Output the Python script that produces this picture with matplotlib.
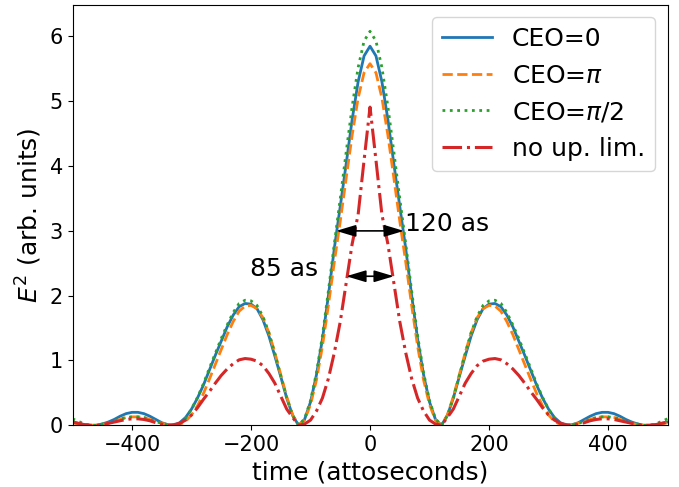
import numpy as np
import matplotlib
matplotlib.use('Agg')
import matplotlib.pyplot as plt

# sample times (attoseconds)
t = np.arange(-500, 501, 10)

# E^2, t = -500 ... 500 every 10 as
ceo_0 = [0.05, 0.03, 0.01, 0.00, 0.00, 0.02, 0.05, 0.09, 0.14, 0.18, 0.20, 0.20, 0.18, 0.14, 0.09, 0.04, 0.01,
         0.00, 0.04, 0.12, 0.25, 0.42, 0.62, 0.85, 1.08, 1.30, 1.52, 1.70, 1.83, 1.88, 1.87, 1.80, 1.63, 1.38, 1.07, 0.75, 0.42, 0.15,
         0.00, 0.09, 0.36, 0.78, 1.33, 2.00, 2.73, 3.38, 4.04, 4.72, 5.30, 5.70,
         5.85,
         5.70, 5.30, 4.72, 4.04, 3.38, 2.73, 2.00, 1.33, 0.78, 0.36, 0.09, 0.00,
         0.15, 0.42, 0.75, 1.07, 1.38, 1.63, 1.80, 1.87, 1.88, 1.83, 1.70, 1.52, 1.30, 1.08, 0.85, 0.62, 0.42, 0.25, 0.12, 0.04, 0.00,
         0.01, 0.04, 0.09, 0.14, 0.18, 0.20, 0.20, 0.18, 0.14, 0.09, 0.05, 0.02, 0.00, 0.00, 0.01, 0.03, 0.05]

ceo_pi = [0.04, 0.02, 0.01, 0.00, 0.00, 0.01, 0.03, 0.06, 0.09, 0.12, 0.13, 0.13, 0.12, 0.09, 0.06, 0.03, 0.01,
          0.00, 0.01, 0.06, 0.16, 0.30, 0.49, 0.71, 0.94, 1.17, 1.40, 1.60, 1.76, 1.84, 1.85, 1.80, 1.66, 1.43, 1.12, 0.78, 0.44, 0.16,
          0.00, 0.08, 0.32, 0.70, 1.22, 1.85, 2.52, 3.15, 3.82, 4.48, 5.05, 5.44,
          5.58,
          5.44, 5.05, 4.48, 3.82, 3.15, 2.52, 1.85, 1.22, 0.70, 0.32, 0.08, 0.00,
          0.16, 0.44, 0.78, 1.12, 1.43, 1.66, 1.80, 1.85, 1.84, 1.76, 1.60, 1.40, 1.17, 0.94, 0.71, 0.49, 0.30, 0.16, 0.06, 0.01, 0.00,
          0.01, 0.03, 0.06, 0.09, 0.12, 0.13, 0.13, 0.12, 0.09, 0.06, 0.03, 0.01, 0.00, 0.00, 0.01, 0.02, 0.04]

ceo_pi2 = [0.10, 0.06, 0.02, 0.00, 0.00, 0.02, 0.04, 0.07, 0.10, 0.12, 0.13, 0.13, 0.12, 0.09, 0.06, 0.03, 0.01,
           0.00, 0.03, 0.11, 0.25, 0.43, 0.64, 0.88, 1.11, 1.34, 1.55, 1.74, 1.88, 1.93, 1.92, 1.85, 1.68, 1.43, 1.11, 0.76, 0.42, 0.15,
           0.00, 0.10, 0.38, 0.81, 1.38, 2.07, 2.80, 3.50, 4.22, 4.92, 5.52, 5.93,
           6.08,
           5.93, 5.52, 4.92, 4.22, 3.50, 2.80, 2.07, 1.38, 0.81, 0.38, 0.10, 0.00,
           0.15, 0.42, 0.76, 1.11, 1.43, 1.68, 1.85, 1.92, 1.93, 1.88, 1.74, 1.55, 1.34, 1.11, 0.88, 0.64, 0.43, 0.25, 0.11, 0.03, 0.00,
           0.01, 0.03, 0.06, 0.09, 0.12, 0.13, 0.13, 0.12, 0.10, 0.07, 0.04, 0.02, 0.00, 0.00, 0.02, 0.06, 0.10]

no_lim = [0.05, 0.03, 0.01, 0.00, 0.00, 0.01, 0.03, 0.05, 0.07, 0.09, 0.10, 0.10, 0.09, 0.07, 0.04, 0.02, 0.00,
          0.01, 0.03, 0.08, 0.16, 0.27, 0.40, 0.52, 0.65, 0.77, 0.87, 0.95, 1.01, 1.03, 1.02, 0.99, 0.92, 0.80, 0.65, 0.45, 0.25, 0.12,
          0.00, 0.02, 0.08, 0.22, 0.42, 0.72, 1.12, 1.60, 2.20, 2.80, 3.25, 4.09,
          4.91,
          4.09, 3.25, 2.80, 2.20, 1.60, 1.12, 0.72, 0.42, 0.22, 0.08, 0.02, 0.00,
          0.12, 0.25, 0.45, 0.65, 0.80, 0.92, 0.99, 1.02, 1.03, 1.01, 0.95, 0.87, 0.77, 0.65, 0.52, 0.40, 0.27, 0.16, 0.08, 0.03, 0.01,
          0.00, 0.02, 0.04, 0.07, 0.09, 0.10, 0.10, 0.09, 0.07, 0.05, 0.03, 0.01, 0.00, 0.00, 0.01, 0.03, 0.05]

labels = ['CEO=0', r'CEO=$\pi$', r'CEO=$\pi/2$', 'no up. lim.']

fig = plt.figure(figsize=(6.79, 4.87), dpi=100)
fig.subplots_adjust(left=0.1068, right=0.9831, bottom=0.1267, top=0.9903)
ax = fig.add_subplot(111)

ax.plot(t, ceo_0, '-', color='C0', lw=2, label=labels[0])
ax.plot(t, ceo_pi, '--', color='C1', lw=2, label=labels[1])
ax.plot(t, ceo_pi2, ':', color='C2', lw=2, label=labels[2])
ax.plot(t, no_lim, '-.', color='C3', lw=2.2, label=labels[3])

# FWHM arrows
arrow = dict(arrowstyle='<|-|>,head_length=0.6,head_width=0.18', color='k', lw=1.2,
             shrinkA=0, shrinkB=0, mutation_scale=20)
ax.annotate('', xy=(-57, 3.0), xytext=(57, 3.0), arrowprops=arrow)
ax.annotate('', xy=(-40, 2.3), xytext=(40, 2.3), arrowprops=arrow)
ax.text(59, 3.0, '120 as', fontsize=18)
ax.text(-201, 2.3, '85 as', fontsize=18)

ax.set_xlim(-500, 500)
ax.set_ylim(0, 6.49)
ax.set_xticks([-400, -200, 0, 200, 400])
ax.set_yticks([0, 1, 2, 3, 4, 5, 6])
ax.tick_params(labelsize=15)
ax.set_xlabel('time (attoseconds)', fontsize=18)
ax.set_ylabel('$E^2$ (arb. units)', fontsize=18)
ax.legend(loc='upper right', fontsize=18)

fig.savefig('out.png')
